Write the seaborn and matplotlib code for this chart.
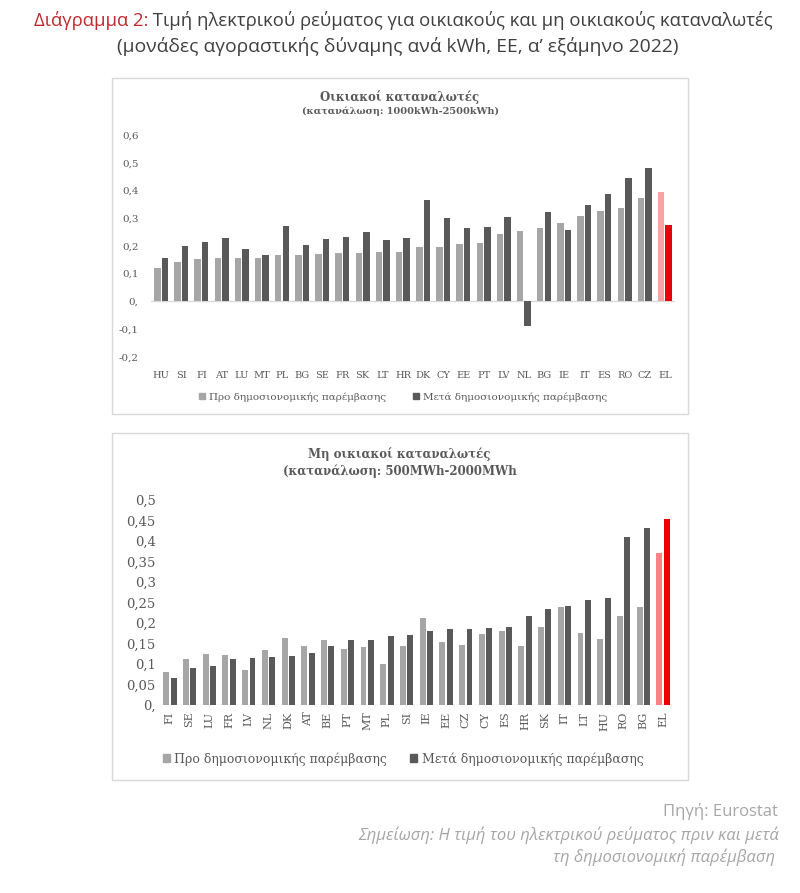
import matplotlib
matplotlib.use("Agg")
import matplotlib.pyplot as plt
import seaborn as sns
import pandas as pd
from matplotlib.patches import Rectangle, Patch

sns.set_theme(style="white")
SERIF = ['DejaVu Serif']
SANS = ['Open Sans', 'DejaVu Sans']
plt.rcParams['font.family'] = SERIF

# ---------------- data ----------------
series_names = ["Προ δημοσιονομικής παρέμβασης", "Μετά δημοσιονομικής παρέμβασης"]

top_countries = ["HU", "SI", "FI", "AT", "LU", "MT", "PL", "BG", "SE", "FR", "SK", "LT", "HR",
                 "DK", "CY", "EE", "PT", "LV", "NL", "BG", "IE", "IT", "ES", "RO", "CZ", "EL"]
top_before = [0.120, 0.142, 0.154, 0.157, 0.157, 0.157, 0.167, 0.167, 0.172, 0.175, 0.175, 0.178, 0.178,
              0.196, 0.196, 0.206, 0.211, 0.242, 0.254, 0.264, 0.282, 0.307, 0.326, 0.335, 0.371, 0.395]
top_after = [0.155, 0.198, 0.214, 0.228, 0.190, 0.167, 0.271, 0.203, 0.226, 0.233, 0.250, 0.221, 0.229,
             0.365, 0.300, 0.264, 0.268, 0.304, -0.089, 0.322, 0.257, 0.347, 0.386, 0.446, 0.482, 0.277]
top_yticks = [-0.2, -0.1, 0.0, 0.1, 0.2, 0.3, 0.4, 0.5, 0.6]
top_yticklabels = ["-0,2", "-0,1", "0,", "0,1", "0,2", "0,3", "0,4", "0,5", "0,6"]

bot_countries = ["FI", "SE", "LU", "FR", "LV", "NL", "DK", "AT", "BE", "PT", "MT", "PL", "SI",
                 "IE", "EE", "CZ", "CY", "ES", "HR", "SK", "IT", "LT", "HU", "RO", "BG", "EL"]
bot_before = [0.080, 0.111, 0.123, 0.122, 0.085, 0.134, 0.162, 0.144, 0.158, 0.137, 0.140, 0.100, 0.144,
              0.211, 0.153, 0.147, 0.173, 0.179, 0.144, 0.191, 0.238, 0.176, 0.161, 0.217, 0.238, 0.370]
bot_after = [0.066, 0.090, 0.095, 0.111, 0.114, 0.117, 0.120, 0.126, 0.144, 0.158, 0.158, 0.168, 0.170,
             0.180, 0.185, 0.185, 0.188, 0.191, 0.217, 0.235, 0.241, 0.256, 0.261, 0.409, 0.432, 0.453]
bot_yticks = [0.0, 0.05, 0.1, 0.15, 0.2, 0.25, 0.3, 0.35, 0.4, 0.45, 0.5]
bot_yticklabels = ["0,", "0,05", "0,1", "0,15", "0,2", "0,25", "0,3", "0,35", "0,4", "0,45", "0,5"]

# ---------------- style ----------------
LIGHT = "#a6a6a6"
DARK = "#595959"
PINK_TOP = "#f5a3a3"
PINK_BOT = "#ff8085"
RED = "#e8000b"
TXT = "#595959"
BORDER = "#d9d9d9"

W, H = 800, 893
fig = plt.figure(figsize=(W / 100, H / 100), dpi=100)
fig.patch.set_facecolor("white")


def fx(px):
    return px / W


def fy(py):
    return 1 - py / H


def make_df(countries, before, after):
    n = len(countries)
    return pd.DataFrame({
        "pos": list(range(n)) * 2,
        "series": [series_names[0]] * n + [series_names[1]] * n,
        "value": list(before) + list(after),
    })


def panel_box(x0, y0, x1, y1):
    fig.add_artist(Rectangle((fx(x0), fy(y1)), fx(x1 - x0), (y1 - y0) / H,
                             transform=fig.transFigure, fill=False,
                             edgecolor=BORDER, linewidth=1.0, zorder=0))


def draw_panel(ax, countries, before, after, pink, gap):
    df = make_df(countries, before, after)
    sns.barplot(data=df, x="pos", y="value", hue="series", palette=[LIGHT, DARK],
                width=0.75, gap=gap, saturation=1, errorbar=None, legend=False, ax=ax)
    ax.containers[0][len(countries) - 1].set_facecolor(pink)
    ax.containers[1][len(countries) - 1].set_facecolor(RED)
    for c in ax.containers:
        for p in c:
            p.set_edgecolor("none")
    ax.set_xlim(-0.5, len(countries) - 0.5)
    ax.set_xticks(range(len(countries)))
    ax.set_xticklabels(countries)
    ax.set_xlabel("")
    ax.set_ylabel("")
    for s in ax.spines.values():
        s.set_visible(False)
    ax.axhline(0, color=BORDER, linewidth=1.0, zorder=0.5)
    ax.set_facecolor("none")


# ---------------- main title ----------------
renderer = fig.canvas.get_renderer()
TSIZE = 13.3
title_red = "Διάγραμμα 2:"
title_rest = " Τιμή ηλεκτρικού ρεύματος για οικιακούς και μη οικιακούς καταναλωτές"
probe = fig.text(0, 0, title_red + title_rest, size=TSIZE, family=SANS)
total_w = probe.get_window_extent(renderer).width
probe.remove()
x0 = 403 - total_w / 2
t1 = fig.text(fx(x0), fy(20), title_red, size=TSIZE, family=SANS, color="#c0282d",
              ha="left", va="center")
w1 = t1.get_window_extent(renderer).width
fig.text(fx(x0 + w1), fy(20), title_rest, size=TSIZE, family=SANS, color="#404040",
         ha="left", va="center")
fig.text(fx(398), fy(46), "(μονάδες αγοραστικής δύναμης ανά kWh, ΕΕ, α’ εξάμηνο 2022)",
         size=13.9, family=SANS, color="#404040", ha="center", va="center")

# ---------------- top panel ----------------
panel_box(112, 78, 688, 414)
fig.text(fx(400), fy(97), "Οικιακοί καταναλωτές", ha="center", va="center",
         weight="bold", size=8.5, color=TXT)
fig.text(fx(401), fy(111), "(κατανάλωση: 1000kWh-2500kWh)", ha="center", va="center",
         weight="bold", size=7, color=TXT)

ax1 = fig.add_axes([fx(151), fy(356.7), fx(524), (356.7 - 135) / H])
draw_panel(ax1, top_countries, top_before, top_after, PINK_TOP, 0.15)
ax1.set_ylim(-0.2, 0.6)
ax1.set_yticks(top_yticks)
ax1.set_yticklabels(top_yticklabels)
ax1.tick_params(axis="both", length=0, colors=TXT)
ax1.tick_params(axis="y", labelsize=7.5, pad=9)
ax1.tick_params(axis="x", labelsize=7, pad=10)
ax1.legend(handles=[Patch(color=LIGHT), Patch(color=DARK)], labels=series_names,
           loc="center", bbox_to_anchor=(fx(403), fy(397)), bbox_transform=fig.transFigure,
           ncol=2, frameon=False, handlelength=0.6, handleheight=0.6, handletextpad=0.35,
           columnspacing=2.6, prop={"size": 7.5, "family": SERIF}, labelcolor=TXT)

# ---------------- bottom panel ----------------
panel_box(112, 433, 688, 780)
fig.text(fx(399), fy(454), "Μη οικιακοί καταναλωτές", ha="center", va="center",
         weight="bold", size=8.5, color=TXT)
fig.text(fx(399.5), fy(471), "(κατανάλωση: 500MWh-2000MWh", ha="center", va="center",
         weight="bold", size=8.5, color=TXT)

ax2 = fig.add_axes([fx(160), fy(704.8), fx(513), (704.8 - 500) / H])
draw_panel(ax2, bot_countries, bot_before, bot_after, PINK_BOT, 0.2)
ax2.set_ylim(0, 0.5)
ax2.set_yticks(bot_yticks)
ax2.set_yticklabels(bot_yticklabels)
ax2.tick_params(axis="both", length=0, colors=TXT)
ax2.tick_params(axis="y", labelsize=9.5, pad=3)
ax2.tick_params(axis="x", labelsize=8, pad=5, labelrotation=90)
ax2.legend(handles=[Patch(color=LIGHT), Patch(color=DARK)], labels=series_names,
           loc="center", bbox_to_anchor=(fx(403), fy(759)), bbox_transform=fig.transFigure,
           ncol=2, frameon=False, handlelength=0.6, handleheight=0.6, handletextpad=0.35,
           columnspacing=1.8, prop={"size": 9, "family": SERIF}, labelcolor=TXT)

# ---------------- footer ----------------
FOOT = "#a6a6a6"
FSIZE = 12
fig.text(fx(778), fy(811), "Πηγή: Eurostat", ha="right", va="center", size=FSIZE,
         family=SANS, color=FOOT)
fig.text(fx(779), fy(835), "Σημείωση: Η τιμή του ηλεκτρικού ρεύματος πριν και μετά",
         ha="right", va="center", size=FSIZE, family=SANS, color=FOOT, style="italic")
fig.text(fx(775), fy(857), "τη δημοσιονομική παρέμβαση", ha="right", va="center", size=FSIZE,
         family=SANS, color=FOOT, style="italic")

fig.savefig("out.png", dpi=100, facecolor="white")
